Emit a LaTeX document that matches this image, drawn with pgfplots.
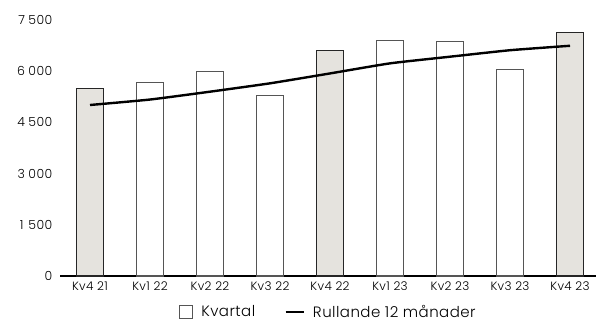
\documentclass[border=0pt]{standalone}
\usepackage{fontspec}
\setmainfont{Poppins}[UprightFont=* Light, LetterSpace=3]
\usepackage{pgfplots}
\pgfplotsset{compat=1.18}

\definecolor{barfill}{HTML}{E5E3DE}
\definecolor{baredge}{HTML}{555555}
\newcommand{\ts}{\hspace{3.5pt}}

\begin{document}
\begin{tikzpicture}
\begin{axis}[
  at={(0pt,0pt)}, anchor=south west,
  scale only axis,
  width=536pt, height=256pt,
  xmin=-0.5, xmax=8.433,
  ymin=0, ymax=7500,
  axis x line=bottom,
  axis y line=left,
  y axis line style={draw=none},
  x axis line style={-, line width=1.6pt, black},
  xtick={0,...,8},
  xticklabels={Kv4 21,Kv1 22,Kv2 22,Kv3 22,Kv4 22,Kv1 23,Kv2 23,Kv3 23,Kv4 23},
  xtick style={draw=none},
  ytick style={draw=none},
  x tick label style={font=\fontsize{12}{13}\selectfont, yshift=0pt},
  ytick={0,1500,3000,4500,6000,7500},
  yticklabels={0,1\hspace{5pt}500,3\ts000,4\ts500,6\ts000,7\ts500},
  yticklabel style={font=\fontsize{12.5}{14}\selectfont, xshift=-2pt},
  clip=false,
  legend style={draw=none, at={(0.5,-36pt)}, anchor=center, inner sep=0pt,
    legend columns=2, font=\fontsize{15}{16}\selectfont,
    nodes={inner sep=1pt},
    /tikz/every odd column/.append style={column sep=7pt},
    /tikz/every even column/.append style={column sep=28pt}},
]
% quarterly bars, ordinary quarters
\addplot[ybar, bar width=26.7pt, fill=white, draw=baredge, line width=1.1pt,
  legend image code/.code={\draw[fill=white, draw=baredge, line width=0.9pt] (0pt,-6.5pt) rectangle (13pt,6.5pt);}]
  coordinates {(1,5680) (2,5980) (3,5300) (5,6910) (6,6865) (7,6055)};
\addlegendentry{Kvartal}
% fourth quarters, shaded
\addplot[ybar, bar width=26.7pt, fill=barfill, draw=black!85, line width=1.1pt, forget plot]
  coordinates {(0,5505) (4,6610) (8,7140)};
% rolling twelve months
\addplot[black, line width=2.4pt, smooth, tension=0.3,
  legend image code/.code={\draw[black, line width=2.8pt] (0pt,0pt) -- (18pt,0pt);}]
  coordinates {(0,5010) (1,5170) (2,5400) (3,5645) (4,5935) (5,6230) (6,6425) (7,6615) (8,6745)};
\addlegendentry{Rullande 12 månader}
\end{axis}
\pgfresetboundingbox
\path (-60pt,-46pt) rectangle (536pt,276pt);
\end{tikzpicture}
\end{document}
